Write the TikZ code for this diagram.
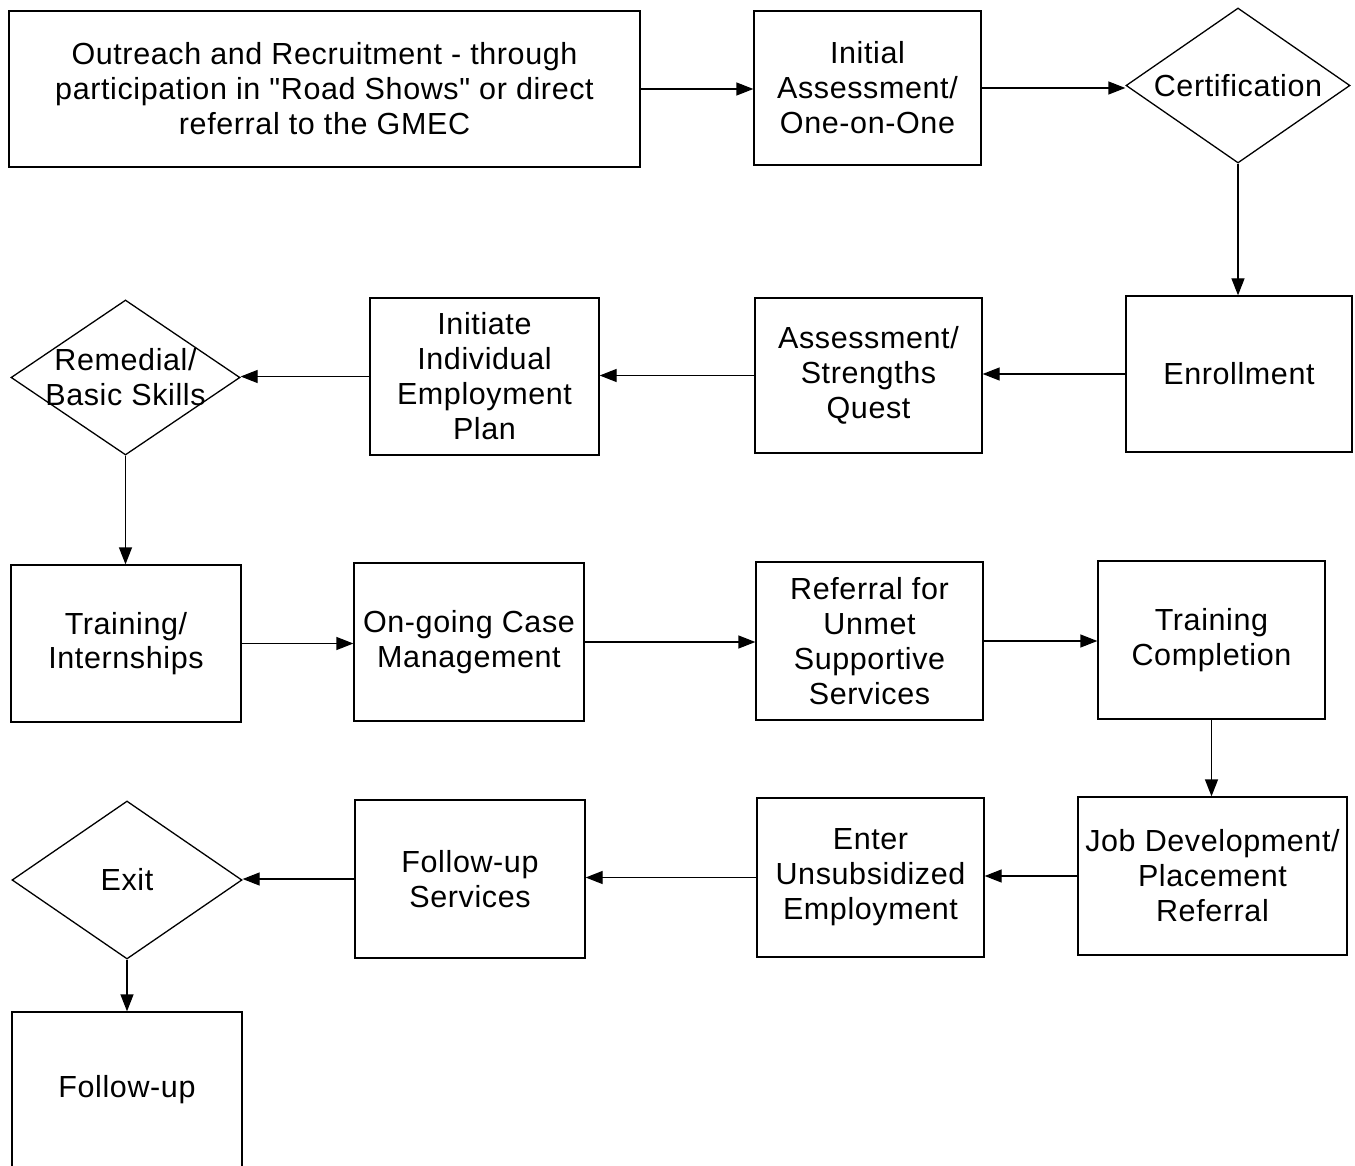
\documentclass[tikz,border=0pt]{standalone}
\usepackage{fontspec}
\setmainfont{Liberation Sans}[Ligatures=TeXOff, LetterSpace=2]
\usetikzlibrary{arrows.meta,shapes.geometric}
\begin{document}
\begin{tikzpicture}[x=1pt,y=-1pt,
  every node/.style={font=\fontsize{30.5}{35}\selectfont, text=black},
  box/.style={draw, line width=1.3pt, rectangle, inner sep=0pt, align=center},
  dia/.style={draw, line width=1.3pt, diamond, inner sep=0pt, shape aspect=1},
  arr/.style={line width=1.3pt, -{Triangle[length=17pt,width=13pt]}}]
\useasboundingbox (0,0) rectangle (1355,1166);
\clip (0,0) rectangle (1355,1166);
\fill[white] (0,0) rectangle (1355,1166);
% row 1
\node[box, minimum width=631pt, minimum height=156pt] (out) at (324.5,89) {Outreach and Recruitment - through\\participation in "Road Shows" or direct\\referral to the GMEC};
\node[box, minimum width=227pt, minimum height=154pt] (init) at (867.5,88) {Initial\\Assessment/\\One-on-One};
\node[dia, minimum width=224pt, minimum height=155pt, label={center:Certification}] (cert) at (1238,85.5) {};
% row 2
\node[box, minimum width=226pt, minimum height=156pt] (enr) at (1239,374) {Enrollment};
\node[box, minimum width=227pt, minimum height=155pt] (asq) at (868.5,375.5) {Assessment/\\Strengths\\Quest};
\node[box, minimum width=229pt, minimum height=157pt] (iep) at (484.5,376.5) {Initiate\\Individual\\Employment\\Plan};
\node[dia, minimum width=229pt, minimum height=155pt, label={[align=center]center:Remedial/\\Basic Skills}] (rem) at (125.5,377.5) {};
% row 3
\node[box, minimum width=230pt, minimum height=157pt] (trn) at (126,643.5) {\raisebox{-4pt}{\shortstack{Training/\\[3pt]Internships}}};
\node[box, minimum width=230pt, minimum height=158pt] (ocm) at (469,642) {On-going Case\\Management};
\node[box, minimum width=227pt, minimum height=158pt] (ref) at (869.5,641) {Referral for\\Unmet\\Supportive\\Services};
\node[box, minimum width=227pt, minimum height=158pt] (tc) at (1211.5,640) {Training\\Completion};
% row 4
\node[box, minimum width=269pt, minimum height=158pt] (job) at (1212.5,876) {Job Development/\\Placement\\Referral};
\node[box, minimum width=227pt, minimum height=159pt] (ent) at (870.5,877.5) {Enter\\Unsubsidized\\Employment};
\node[box, minimum width=230pt, minimum height=158pt] (fus) at (470,879) {Follow-up\\Services};
\node[dia, minimum width=230pt, minimum height=158pt, label={center:Exit}] (exit) at (127,880) {};
\node[box, minimum width=230pt, minimum height=156pt] (fu) at (127,1090) {Follow-up};
% connectors
\draw[arr] (out.east) -- (out.east -| init.west);
\draw[arr] (init.east) -- (init.east -| cert.west);
\draw[arr] (cert.south) -- (cert.south |- enr.north);
\draw[arr] (enr.west) -- (enr.west -| asq.east);
\draw[arr] (asq.west) -- (asq.west -| iep.east);
\draw[arr] (iep.west) -- (iep.west -| rem.east);
\draw[arr] (rem.south) -- (rem.south |- trn.north);
\draw[arr] (trn.east) -- (trn.east -| ocm.west);
\draw[arr] (ocm.east) -- (ocm.east -| ref.west);
\draw[arr] (ref.east) -- (ref.east -| tc.west);
\draw[arr] (tc.south) -- (tc.south |- job.north);
\draw[arr] (job.west) -- (job.west -| ent.east);
\draw[arr] (ent.west) -- (ent.west -| fus.east);
\draw[arr] (fus.west) -- (fus.west -| exit.east);
\draw[arr] (exit.south) -- (exit.south |- fu.north);
\end{tikzpicture}
\end{document}
